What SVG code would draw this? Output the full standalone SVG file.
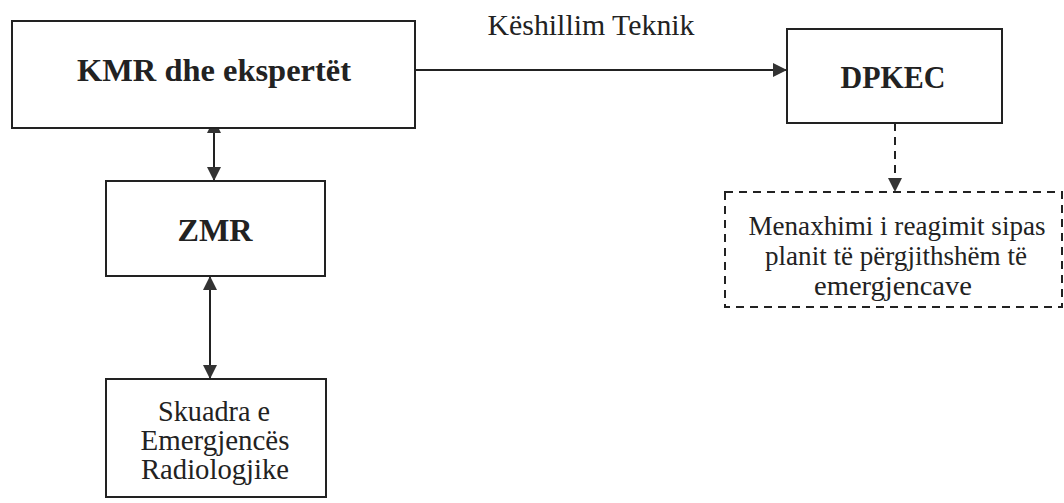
<svg xmlns="http://www.w3.org/2000/svg" width="1064" height="503" viewBox="0 0 1064 503">
<defs>
<style>
.box{fill:#fff;stroke:#222;stroke-width:2}
.dbox{fill:#fff;stroke:#222;stroke-width:2;stroke-dasharray:8 6}
.edge{fill:none;stroke:#222;stroke-width:2}
.dedge{fill:none;stroke:#222;stroke-width:2;stroke-dasharray:8 6}
.t{font-family:"Liberation Serif","Times New Roman",serif;fill:#222;text-anchor:middle}
.b{font-weight:bold;font-size:32px}
.r{font-size:28px}
</style>
<marker id="ah" viewBox="0 0 14 14" refX="14" refY="7" markerWidth="14" markerHeight="14" markerUnits="userSpaceOnUse" orient="auto-start-reverse">
<path d="M0,0 L14,7 L0,14 Z" fill="#333"/>
</marker>
</defs>
<rect width="1064" height="503" fill="#fff"/>
<g id="connectors">
<line class="edge" x1="415" y1="70" x2="787" y2="70" marker-end="url(#ah)"/>
<line class="edge" x1="214" y1="119" x2="214" y2="181" marker-start="url(#ah)" marker-end="url(#ah)"/>
<line class="edge" x1="210" y1="276" x2="210" y2="379" marker-start="url(#ah)" marker-end="url(#ah)"/>
<line class="dedge" x1="895" y1="123" x2="895" y2="192" marker-end="url(#ah)"/>
<text class="t r" x="591" y="35" style="font-size:29.5px" textLength="207" lengthAdjust="spacingAndGlyphs">Këshillim Teknik</text>
</g>
<g id="kmr">
<rect class="box" x="12" y="21" width="403" height="107"/>
<text class="t b" x="214" y="81" style="font-size:32.5px" textLength="274" lengthAdjust="spacingAndGlyphs">KMR dhe ekspertët</text>
</g>
<g id="dpkec">
<rect class="box" x="787" y="29" width="215" height="94"/>
<text class="t b" x="893" y="88" style="font-size:30.5px" textLength="105" lengthAdjust="spacingAndGlyphs">DPKEC</text>
</g>
<g id="menaxhimi">
<rect class="dbox" x="725" y="192" width="337" height="115"/>
<text class="t r" x="897" y="235" style="font-size:27.5px" textLength="297" lengthAdjust="spacingAndGlyphs">Menaxhimi i reagimit sipas</text>
<text class="t r" x="896" y="265" style="font-size:27.5px" textLength="262" lengthAdjust="spacingAndGlyphs">planit të përgjithshëm të</text>
<text class="t r" x="893" y="295" textLength="158" lengthAdjust="spacingAndGlyphs">emergjencave</text>
</g>
<g id="zmr">
<rect class="box" x="106" y="181" width="219" height="95"/>
<text class="t b" x="215" y="241" textLength="75" lengthAdjust="spacingAndGlyphs">ZMR</text>
</g>
<g id="skuadra">
<rect class="box" x="106" y="379" width="220" height="118"/>
<text class="t r" x="214" y="421" style="font-size:28.5px" textLength="112" lengthAdjust="spacingAndGlyphs">Skuadra e</text>
<text class="t r" x="215" y="450" style="font-size:28.5px" textLength="149" lengthAdjust="spacingAndGlyphs">Emergjencës</text>
<text class="t r" x="215" y="479" style="font-size:28.5px" textLength="148" lengthAdjust="spacingAndGlyphs">Radiologjike</text>
</g>
</svg>
